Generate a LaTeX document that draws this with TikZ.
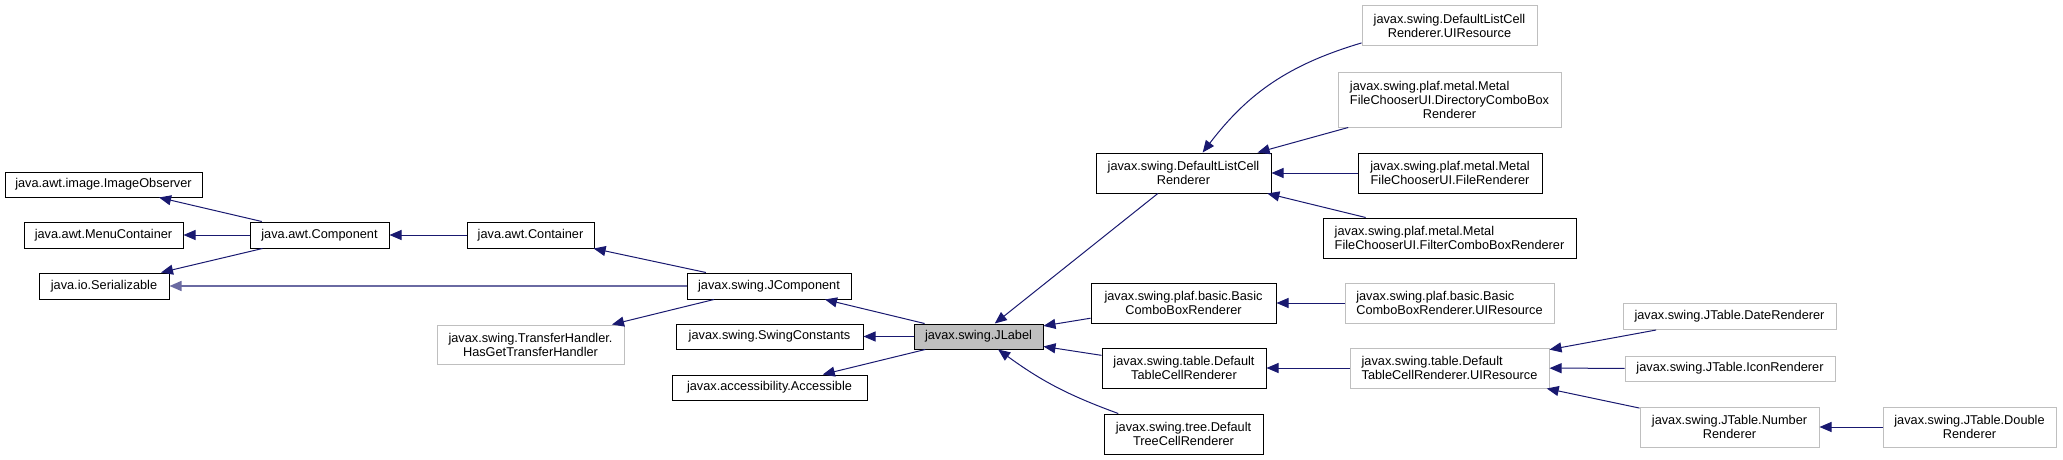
\documentclass[tikz,border=0pt]{standalone}
\usepackage{fontspec}
\setmainfont{Liberation Sans}
\usepackage{calc}
\usepackage{xcolor}
\definecolor{edgeblue}{RGB}{25,25,112}
\definecolor{extgray}{RGB}{191,191,191}
\usetikzlibrary{arrows.meta}
\tikzset{
  cls/.style={rectangle,draw=black,line width=1pt,fill=white,align=center,
    inner sep=0pt,font=\fontsize{12.75}{14}\selectfont},
  ext_cls/.style={cls,draw=extgray},
  cur_cls/.style={cls,fill=extgray},
  wh/.style 2 args={minimum width=#1pt,minimum height=#2pt},
  inh/.style={draw=edgeblue,line width=1pt,-{Triangle[length=12pt,width=10pt]}},
  inh_lt/.style={inh,draw=edgeblue!65,line width=1.5pt},
}

\begin{document}
\begin{tikzpicture}[x=1pt,y=-1pt]
  \useasboundingbox (0,0) rectangle (2063,460);
  % java.awt / java.io
  \node (imgobs) [cls,wh={197}{25}] at (103.5,184.5) {java.awt.image.ImageObserver};
  \node (menucont)[cls,wh={159}{26}] at (103.5,235) {java.awt.MenuContainer};
  \node (serial) [cls,wh={130}{26}] at (104,286) {java.io.Serializable};
  \node (comp)   [cls,wh={139}{26}] at (319.5,235) {java.awt.Component};
  \node (cont)   [cls,wh={127}{26}] at (530.5,235) {java.awt.Container};
  \node (hasget) [ext_cls,wh={187}{39}] at (530.5,344.5) {javax.swing.TransferHandler.\\HasGetTransferHandler};
  % javax.swing
  \node (jcomp)  [cls,wh={164}{26}] at (769,286) {javax.swing.JComponent};
  \node (swconst)[cls,wh={187}{25}] at (769.5,336.5) {javax.swing.SwingConstants};
  \node (access) [cls,wh={195}{25}] at (769.5,387.5) {javax.accessibility.Accessible};
  \node (jlabel) [cur_cls,wh={129}{25}] at (978.5,336.5) {javax.swing.JLabel};
  % renderers
  \node (dlcr)   [cls,wh={175}{40}] at (1183.5,173) {javax.swing.DefaultListCell\\Renderer};
  \node (bcbr)   [cls,wh={185}{40}] at (1183.5,303) {javax.swing.plaf.basic.Basic\\ComboBoxRenderer};
  \node (dtcr)   [cls,wh={164}{40}] at (1184,368) {javax.swing.table.Default\\TableCellRenderer};
  \node (dtree)  [cls,wh={159}{40}] at (1183.5,434) {javax.swing.tree.Default\\TreeCellRenderer};
  \node (dlcrui) [ext_cls,wh={175}{40}] at (1449.5,26) {javax.swing.DefaultListCell\\Renderer.UIResource};
  \node (dircb)  [ext_cls,wh={223}{55},align=left] at (1449.5,99.5)
    {javax.swing.plaf.metal.Metal\\FileChooserUI.DirectoryComboBox\\
     \makebox[\widthof{FileChooserUI.DirectoryComboBox}]{Renderer}};
  \node (filerd) [cls,wh={184}{40}] at (1450,173) {javax.swing.plaf.metal.Metal\\FileChooserUI.FileRenderer};
  \node (filtcb) [cls,wh={253}{40},align=left] at (1449.5,238) {javax.swing.plaf.metal.Metal\\FileChooserUI.FilterComboBoxRenderer};
  \node (bcbrui) [ext_cls,wh={209}{40},align=left] at (1449.5,303) {javax.swing.plaf.basic.Basic\\ComboBoxRenderer.UIResource};
  \node (dtcrui) [ext_cls,wh={199}{40},align=left] at (1449.5,368) {javax.swing.table.Default\\TableCellRenderer.UIResource};
  % JTable renderers
  \node (daterd) [ext_cls,wh={213}{26}] at (1729.5,316.5) {javax.swing.JTable.DateRenderer};
  \node (iconrd) [ext_cls,wh={210}{25}] at (1730,368.5) {javax.swing.JTable.IconRenderer};
  \node (numrd)  [ext_cls,wh={179}{40}] at (1729.5,427) {javax.swing.JTable.Number\\Renderer};
  \node (dblrd)  [ext_cls,wh={173}{40}] at (1969.5,427) {javax.swing.JTable.Double\\Renderer};

  \draw[inh](comp)--(imgobs); \draw[inh](comp)--(menucont); \draw[inh](comp)--(serial);
  \draw[inh](cont)--(comp); \draw[inh](jcomp)--(cont); \draw[inh_lt](jcomp)--(serial);
  \draw[inh](jcomp)--(hasget);
  \draw[inh](jlabel)--(jcomp); \draw[inh](jlabel)--(swconst); \draw[inh](jlabel)--(access);
  \draw[inh](dlcr)--(jlabel); \draw[inh](bcbr)--(jlabel); \draw[inh](dtcr)--(jlabel);
  \draw[inh](dtree) to[bend left=8] (jlabel);
  \draw[inh](dlcrui) to[bend right=18] (dlcr);
  \draw[inh](dircb)--(dlcr); \draw[inh](filerd)--(dlcr); \draw[inh](filtcb)--(dlcr);
  \draw[inh](bcbrui)--(bcbr); \draw[inh](dtcrui)--(dtcr);
  \draw[inh](daterd)--(dtcrui); \draw[inh](iconrd)--(dtcrui); \draw[inh](numrd)--(dtcrui);
  \draw[inh](dblrd)--(numrd);
\end{tikzpicture}
\end{document}
